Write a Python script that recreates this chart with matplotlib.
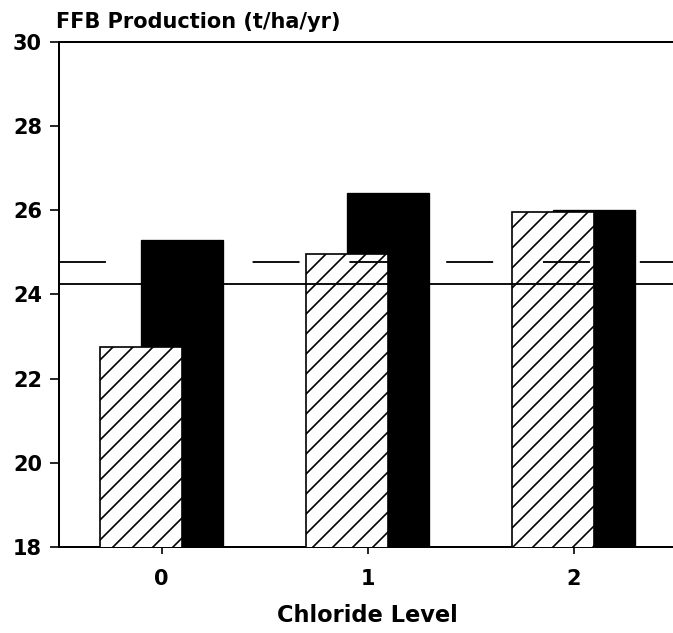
import matplotlib
matplotlib.use("Agg")
import matplotlib.pyplot as plt
import numpy as np

# Data
chloride_levels = ["0", "1", "2"]
series_hatched = [22.75, 24.96, 25.96]
series_black = [25.29, 26.40, 26.01]
ref_dashed = 24.76
ref_solid = 24.25
y_ticks = [18, 20, 22, 24, 26, 28, 30]

DPI = 120
plt.rcParams['font.family'] = ['DejaVu Sans']
plt.rcParams['hatch.linewidth'] = 1.0

fig = plt.figure(figsize=(673 / DPI, 633 / DPI), dpi=DPI)
ax = fig.add_axes([58.5 / 673, (633 - 547.3) / 633, 618 / 673, (547.3 - 41.5) / 633])

x = np.arange(len(chloride_levels))
w = 0.4
ax.bar(x + 0.1, series_black, width=w, color='black', edgecolor='black',
       linewidth=0.8, zorder=2)
ax.bar(x - 0.1, series_hatched, width=w, color='white', edgecolor='black',
       hatch='//', linewidth=1.0, zorder=3)

ax.axhline(ref_dashed, color='black', linewidth=1.1, linestyle=(0, (25.6, 27.2)), zorder=4)
ax.axhline(ref_solid, color='black', linewidth=1.1, zorder=4)

ax.set_xlim(-0.5, 2.5)
ax.set_ylim(18, 30)
ax.set_xticks(x)
ax.set_xticklabels(chloride_levels)
ax.set_yticks(y_ticks)

for s in ['left', 'top', 'bottom']:
    ax.spines[s].set_linewidth(1.2)
ax.spines['right'].set_visible(False)

ax.tick_params(axis='y', direction='out', length=5.4, width=1.0, pad=4.5,
               labelsize=12.5)
ax.tick_params(axis='x', direction='out', length=4.2, width=1.0, pad=9,
               labelsize=12.5)
for lab in ax.get_xticklabels() + ax.get_yticklabels():
    lab.set_fontweight('bold')

ax.set_xlabel("Chloride Level", fontsize=13.5, fontweight='bold', labelpad=9)
fig.text(56 / 673, 1 - 27.5 / 633, "FFB Production (t/ha/yr)", fontsize=12.5,
         fontweight='bold', ha='left', va='baseline')

fig.savefig("out.png", dpi=DPI)
